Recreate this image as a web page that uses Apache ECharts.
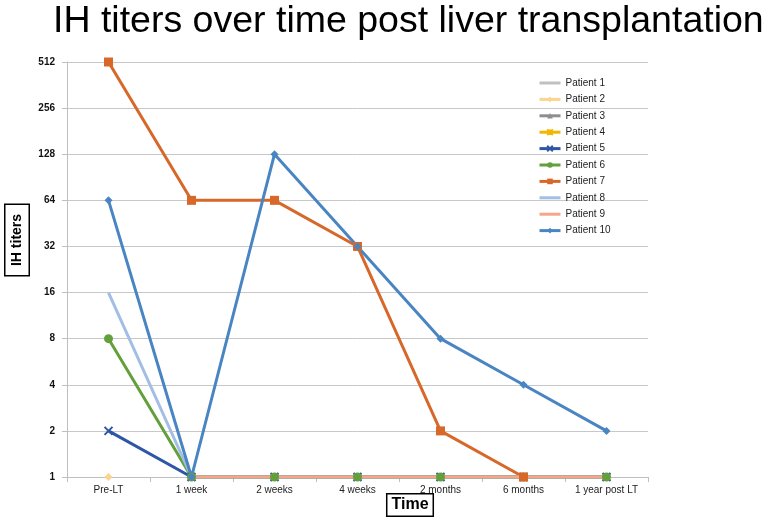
<!DOCTYPE html>
<html>
<head>
<meta charset="utf-8">
<script src="https://cdn.jsdelivr.net/npm/echarts@6/dist/echarts.min.js"></script>
<style>html,body{margin:0;padding:0;background:#fff;}#c{width:771px;height:520px;}</style>
</head>
<body>
<div id="c"></div>
<script>
var categories = ['Pre-LT', '1 week', '2 weeks', '4 weeks', '2 months', '6 months', '1 year post LT'];
var yTicks = [1, 2, 4, 8, 16, 32, 64, 128, 256, 512];
var patient1 = [null, 1, 1, 1, 1, 1, 1];
var patient2 = [1, null, null, null, null, null, null];
var patient3 = [null, 1, 1, 1, 1, 1, 1];
var patient4 = [null, 1, 1, 1, 1, 1, 1];
var patient5 = [2, 1, 1, 1, 1, 1, 1];
var patient6 = [8, 1, 1, 1, 1, 1, 1];
var patient7 = [512, 64, 64, 32, 2, 1, null];
var patient8 = [16, 1, 1, 1, 1, 1, 1];
var patient9 = [null, 1, 1, 1, 1, 1, 1];
var patient10 = [64, 1, 128, 32, 8, 4, 2];

var FONT = 'Liberation Sans, Arial, sans-serif';

var seriesDefs = [
  {name: 'Patient 1', data: patient1, color: '#C0C0C0', symbol: 'none', size: 0},
  {name: 'Patient 2', data: patient2, color: '#FCD48F', symbol: 'diamond', size: 8},
  {name: 'Patient 3', data: patient3, color: '#8E8E8E', symbol: 'triangle', size: 7},
  {name: 'Patient 4', data: patient4, color: '#F2B600', symbol: 'path://M0,0 L10,10 M10,0 L0,10 M5,0 L5,10', size: 7},
  {name: 'Patient 5', data: patient5, color: '#2F56A6', symbol: 'path://M0,0 L10,10 M10,0 L0,10', size: 8},
  {name: 'Patient 6', data: patient6, color: '#63A03C', symbol: 'circle', size: 9},
  {name: 'Patient 7', data: patient7, color: '#D7682A', symbol: 'rect', size: 9},
  {name: 'Patient 8', data: patient8, color: '#A3BEE4', symbol: 'none', size: 0},
  {name: 'Patient 9', data: patient9, color: '#F4A58A', symbol: 'none', size: 0},
  {name: 'Patient 10', data: patient10, color: '#4A85C3', symbol: 'diamond', size: 8}
];

var series = seriesDefs.map(function (d) {
  var isPath = d.symbol.indexOf('path://') === 0;
  return {
    name: d.name,
    type: 'line',
    data: d.data,
    symbol: d.symbol,
    symbolSize: d.size,
    showSymbol: d.symbol !== 'none',
    connectNulls: false,
    animation: false,
    lineStyle: {color: d.color, width: 3},
    itemStyle: {color: d.color, borderColor: d.color, borderWidth: isPath ? 2 : 0},
    emphasis: {disabled: true}
  };
});

var legendData = seriesDefs.map(function (d) {
  var item = {name: d.name};
  if (d.symbol === 'none') {
    item.itemStyle = {color: 'rgba(0,0,0,0)', borderWidth: 0, opacity: 0};
  }
  return item;
});

var chart = echarts.init(document.getElementById('c'), null, {renderer: 'canvas'});
chart.setOption({
  backgroundColor: '#fff',
  animation: false,
  color: seriesDefs.map(function (d) { return d.color; }),
  title: {
    text: 'IH titers over time post liver transplantation',
    left: 48,
    top: -2,
    textStyle: {fontFamily: FONT, fontWeight: 'normal', fontSize: 37.5, color: '#000'}
  },
  legend: {
    orient: 'vertical',
    left: 533,
    top: 72,
    itemGap: 4.4,
    itemWidth: 21,
    itemHeight: 7,
    lineStyle: {width: 3},
    textStyle: {fontFamily: FONT, fontSize: 10, color: '#222', lineHeight: 12},
    data: legendData
  },
  grid: {left: 67, right: 123, top: 62, bottom: 43, containLabel: false},
  xAxis: {
    type: 'category',
    data: categories,
    boundaryGap: true,
    axisLine: {lineStyle: {color: '#BFBFBF', width: 1}},
    axisTick: {show: true, length: 5, lineStyle: {color: '#BFBFBF'}},
    axisLabel: {fontFamily: FONT, fontSize: 10, color: '#222', margin: 8, interval: 0}
  },
  yAxis: {
    type: 'log',
    logBase: 2,
    min: 1,
    max: 512,
    axisLine: {show: true, lineStyle: {color: '#BFBFBF', width: 1}},
    axisTick: {show: true, length: 5, lineStyle: {color: '#BFBFBF'}},
    axisLabel: {fontFamily: FONT, fontSize: 10, fontWeight: 'bold', color: '#111', margin: 12},
    splitLine: {show: true, lineStyle: {color: '#C8C8C8', width: 1}}
  },
  graphic: [
    {
      type: 'text',
      x: 17,
      y: 240,
      rotation: Math.PI / 2,
      style: {
        text: 'IH titers',
        font: 'bold 14px ' + FONT,
        fill: '#000',
        align: 'center',
        verticalAlign: 'middle',
        borderColor: '#000',
        borderWidth: 1.5,
        padding: [5, 9, 4, 9],
        backgroundColor: '#fff'
      }
    },
    {
      type: 'text',
      x: 410,
      y: 505,
      style: {
        text: 'Time',
        font: 'bold 16px ' + FONT,
        fill: '#000',
        align: 'center',
        verticalAlign: 'middle',
        borderColor: '#000',
        borderWidth: 1.5,
        padding: [3, 4, 2, 4],
        backgroundColor: '#fff'
      }
    }
  ],
  series: series
});
</script>
</body>
</html>
